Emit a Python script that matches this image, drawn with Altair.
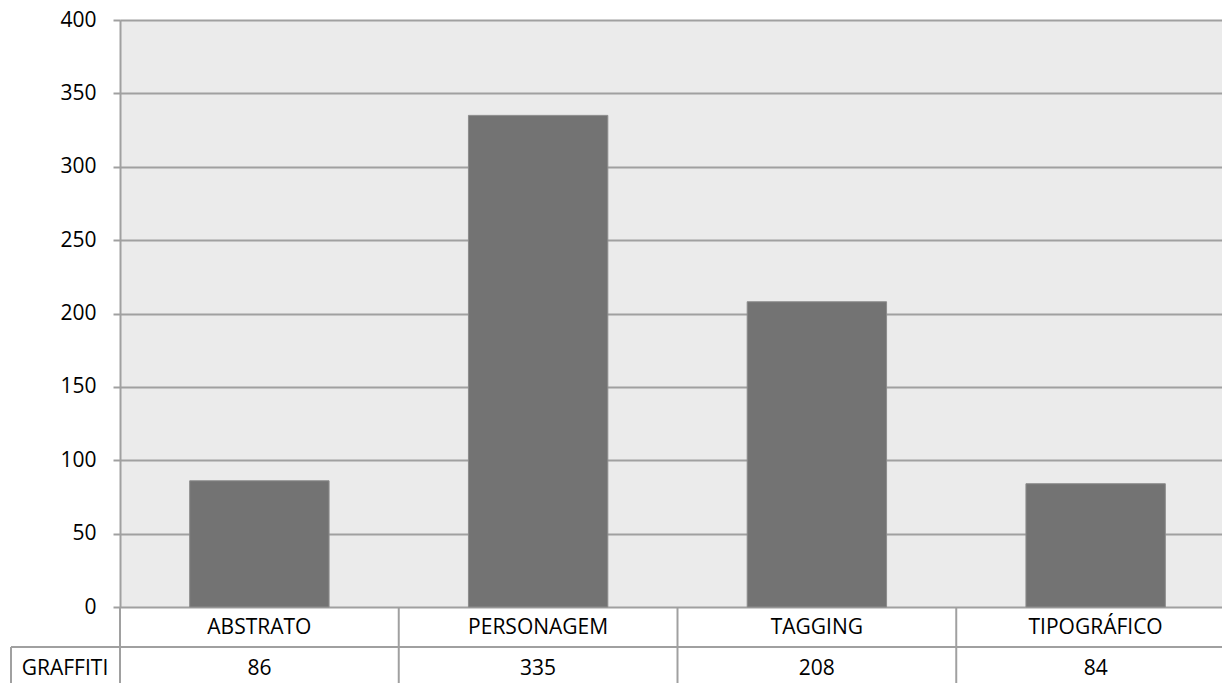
import altair as alt
import pandas as pd

# Graffiti counts by style
categories = ["ABSTRATO", "PERSONAGEM", "TAGGING", "TIPOGRÁFICO"]
values = [86, 335, 208, 84]
series_name = "GRAFFITI"

df = pd.DataFrame({"estilo": categories, "qtd": values, "serie": series_name})

FONT = "Open Sans"
FS = 21
LINE = "#a0a0a0"
W, H = 1102, 587      # visible plot area
BAND_SPAN = 1115      # the category bands run slightly past the right edge

bar_scale = alt.Scale(paddingInner=0.5, paddingOuter=0.25, range=[0, BAND_SPAN])
cell_scale = alt.Scale(paddingInner=0, paddingOuter=0, range=[0, BAND_SPAN])

base = alt.Chart(df)

bars = base.mark_bar(color="#737373", stroke="#8c8c8c", strokeWidth=1).encode(
    x=alt.X("estilo:N", sort=categories, scale=bar_scale, axis=None),
    y=alt.Y(
        "qtd:Q",
        scale=alt.Scale(domain=[0, 400]),
        axis=alt.Axis(
            values=[0, 50, 100, 150, 200, 250, 300, 350, 400],
            title=None,
            grid=True,
            gridColor=LINE,
            gridWidth=2,
            domainColor=LINE,
            domainWidth=2,
            tickColor=LINE,
            tickWidth=2,
            tickSize=7,
            labelPadding=17,
            labelFont=FONT,
            labelFontSize=FS,
            labelColor="#000000",
        ),
    ),
)

# data table under the plot: category row and value row
cat_text = base.mark_text(font=FONT, fontSize=FS, color="#000000", baseline="middle").encode(
    x=alt.X("estilo:N", sort=categories, scale=bar_scale, axis=None),
    y=alt.value(H + 21),
    text="estilo:N",
)
val_text = base.mark_text(font=FONT, fontSize=FS, color="#000000", baseline="middle").encode(
    x=alt.X("estilo:N", sort=categories, scale=bar_scale, axis=None),
    y=alt.value(H + 62),
    text="qtd:Q",
)

# column separators at the start of each table cell
col_lines = base.mark_rule(color=LINE, strokeWidth=2).encode(
    x=alt.X("estilo:N", sort=categories, scale=cell_scale, bandPosition=0, axis=None),
    y=alt.value(H),
    y2=alt.value(H + 80),
)

series_df = pd.DataFrame({"serie": [series_name]})
row_line = alt.Chart(series_df).mark_rule(color=LINE, strokeWidth=2).encode(
    x=alt.value(-109), x2=alt.value(W), y=alt.value(H + 40)
)
left_line = alt.Chart(series_df).mark_rule(color=LINE, strokeWidth=2).encode(
    x=alt.value(-109), y=alt.value(H + 40), y2=alt.value(H + 80)
)
series_label = alt.Chart(series_df).mark_text(
    font=FONT, fontSize=FS, color="#000000", baseline="middle", align="center"
).encode(x=alt.value(-55), y=alt.value(H + 62), text="serie:N")

chart = (
    alt.layer(bars, col_lines, row_line, left_line, cat_text, val_text, series_label)
    .resolve_scale(x="independent")
    .properties(
        width=W,
        height=H,
        autosize=alt.AutoSizeParams(type="none"),
        padding={"left": 120, "top": 20, "right": 0, "bottom": 76},
        background="#ffffff",
    )
    .configure_view(fill="#ebebeb", stroke=None)
)

chart.save("out.html", embed_options={"renderer": "svg", "actions": False})
